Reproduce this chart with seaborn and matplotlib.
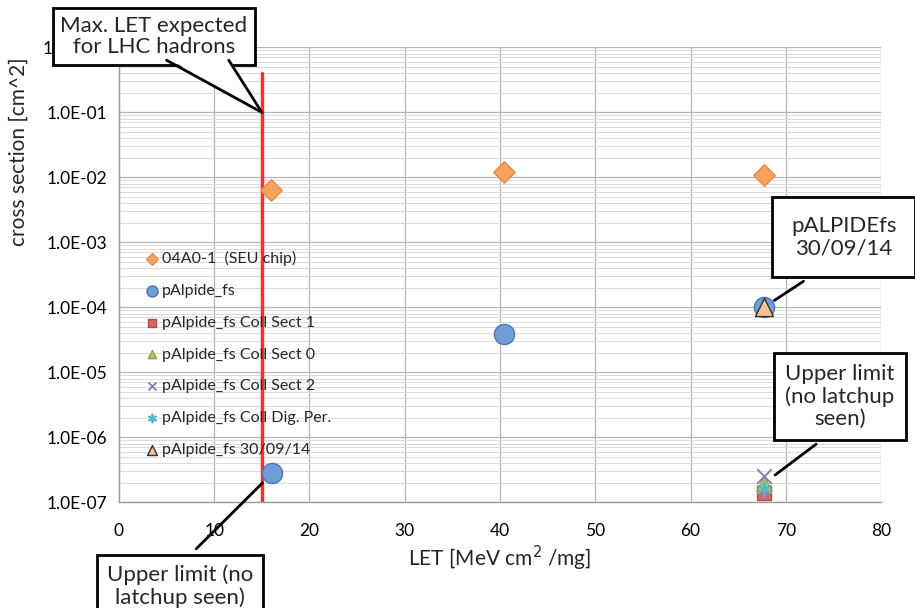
import numpy as np
import pandas as pd
import seaborn as sns
import matplotlib.pyplot as plt
from matplotlib.patches import Polygon
from matplotlib.lines import Line2D
from matplotlib.ticker import LogLocator, FixedLocator, FuncFormatter, NullFormatter

# data
seu_let = [16.0, 40.4, 67.7]
seu_xs = [6.3e-3, 1.23e-2, 1.1e-2]

fs_let = [16.1, 40.4, 67.7]
fs_xs = [2.8e-7, 3.9e-5, 1.0e-4]

sect1_let = [67.7]
sect1_xs = [1.4e-7]
sect0_let = [67.7]
sect0_xs = [1.95e-7]
sect2_let = [67.7]
sect2_xs = [2.5e-7]
digper_let = [67.7]
digper_xs = [1.6e-7]
run0930_let = [67.7]
run0930_xs = [1.0e-4]

lhc_max_let = 15.0
lhc_line_ys = [1e-7, 0.41]

x_ticks = [0, 10, 20, 30, 40, 50, 60, 70, 80]

sns.set_style('white')
plt.rcParams['font.family'] = ['Lato', 'DejaVu Sans']

fig = plt.figure(figsize=(9.15, 6.08), dpi=100)
ax = fig.add_axes([0.130, 0.174, 0.833, 0.748])

series = [
    ('04A0-1  (SEU chip)', seu_let, seu_xs, 'D', '#f8a35e', '#e98c3f', 120, 3),
    ('pAlpide_fs', fs_let, fs_xs, 'o', '#6f9ed8', '#4a78b2', 210, 3),
    ('pAlpide_fs Coll Sect 1', sect1_let, sect1_xs, 's', '#d46764', '#b84d4a', 110, 3),
    ('pAlpide_fs Coll Sect 0', sect0_let, sect0_xs, '^', '#a5c563', '#8aab4a', 120, 4),
    ('pAlpide_fs Coll Sect 2', sect2_let, sect2_xs, 'x', '#8c78b0', '#8c78b0', 110, 5),
    ('pAlpide_fs Coll Dig. Per.', digper_let, digper_xs, (6, 2, 0), '#4fb8d4', '#4fb8d4', 110, 6),
    ('pAlpide_fs 30/09/14', run0930_let, run0930_xs, '^', '#fbc194', '#333333', 170, 4),
]

for name, xs, ys, mk, fc, ec, size, z in series:
    df = pd.DataFrame({'LET': xs, 'xs': ys})
    if mk in ('x', (6, 2, 0)):
        sns.scatterplot(data=df, x='LET', y='xs', marker=mk, color=fc, s=size,
                        linewidth=1.3, label=name, ax=ax, zorder=z)
    else:
        sns.scatterplot(data=df, x='LET', y='xs', marker=mk, color=fc, edgecolor=ec,
                        s=size, linewidth=1.0, label=name, ax=ax, zorder=z)

# red vertical line: max LET for LHC hadrons
ax.plot([lhc_max_let, lhc_max_let], lhc_line_ys, color='#ff2a2a', lw=2.4, zorder=2)

ax.set_yscale('log')
ax.set_xlim(0, 80)
ax.set_ylim(1e-7, 1.0)

ax.xaxis.set_major_locator(FixedLocator(x_ticks))
ax.yaxis.set_major_locator(LogLocator(base=10, numticks=20))
ax.yaxis.set_minor_locator(LogLocator(base=10, subs=np.arange(2, 10), numticks=20))
ax.yaxis.set_major_formatter(FuncFormatter(lambda v, p: f'{v:.1E}'))
ax.yaxis.set_minor_formatter(NullFormatter())

ax.grid(True, which='major', axis='both', color='#b5b5b5', lw=0.9)
ax.grid(True, which='minor', axis='y', color='#dadada', lw=0.7)
ax.set_axisbelow(True)

for s in ['top', 'right']:
    ax.spines[s].set_visible(False)
for s in ['left', 'bottom']:
    ax.spines[s].set_color('#9a9a9a')
    ax.spines[s].set_linewidth(1.0)
ax.tick_params(axis='both', which='major', direction='out', length=5, width=1,
               color='#9a9a9a', labelsize=12.5, labelcolor='black')
ax.tick_params(axis='x', pad=10)
ax.tick_params(axis='y', which='minor', length=0)

ax.set_xlabel('LET [MeV cm$^2$ /mg]', fontsize=15)
ax.set_ylabel('cross section [cm^2]', fontsize=15)
ax.xaxis.set_label_coords(0.5, -0.092)
ax.yaxis.set_label_coords(-0.118, 0.77)

ax.legend(loc='upper left', bbox_to_anchor=(0.026, 0.566), frameon=False,
          fontsize=11.5, labelspacing=1.1, handletextpad=0.15, handlelength=0.9,
          markerscale=0.55, borderaxespad=0)

# callout with wedge pointer (Excel style speech bubble)
fig.canvas.draw()
tip = fig.transFigure.inverted().transform(ax.transData.transform((lhc_max_let, 0.1)))
wedge = [(0.182, 0.905), (0.250, 0.905), tuple(tip)]
ax.add_patch(Polygon(wedge, closed=True, fc='white', ec='none', transform=fig.transFigure,
                     clip_on=False, zorder=11))
for p in wedge[:2]:
    ax.add_line(Line2D([p[0], tip[0]], [p[1] - 0.004, tip[1]], color='black', lw=2,
                       transform=fig.transFigure, clip_on=False, zorder=12))

ax.annotate('Max. LET expected\nfor LHC hadrons', xy=(0.168, 0.940), xycoords='figure fraction',
            ha='center', va='center', fontsize=16, linespacing=1.1,
            bbox=dict(boxstyle='square,pad=0.33', fc='white', ec='black', lw=2),
            annotation_clip=False, zorder=10)

ax.annotate('pALPIDEfs\n30/09/14', xy=(run0930_let[0], run0930_xs[0]),
            xytext=(0.922, 0.610), textcoords='figure fraction',
            ha='center', va='center', fontsize=16, linespacing=1.15,
            bbox=dict(boxstyle='square,pad=0.85', fc='white', ec='black', lw=2),
            annotation_clip=False, zorder=10,
            arrowprops=dict(arrowstyle='-', color='black', lw=2, shrinkA=4, shrinkB=9,
                            relpos=(0.45, 0.0)))

ax.annotate('Upper limit\n(no latchup\nseen)', xy=(sect0_let[0], sect0_xs[0]),
            xytext=(0.918, 0.348), textcoords='figure fraction',
            ha='center', va='center', fontsize=16, linespacing=1.12,
            bbox=dict(boxstyle='square,pad=0.5', fc='white', ec='black', lw=2),
            annotation_clip=False, zorder=10,
            arrowprops=dict(arrowstyle='-', color='black', lw=2, shrinkA=4, shrinkB=10,
                            relpos=(0.47, 0.0)))

ax.annotate('Upper limit (no\nlatchup seen)', xy=(fs_let[0], fs_xs[0]),
            xytext=(0.197, 0.036), textcoords='figure fraction',
            ha='center', va='center', fontsize=16, linespacing=1.1,
            bbox=dict(boxstyle='square,pad=0.45', fc='white', ec='black', lw=2),
            annotation_clip=False, zorder=10,
            arrowprops=dict(arrowstyle='-', color='black', lw=2, shrinkA=5, shrinkB=10,
                            relpos=(0.5, 1.0)))

fig.savefig('out.png', dpi=100)
